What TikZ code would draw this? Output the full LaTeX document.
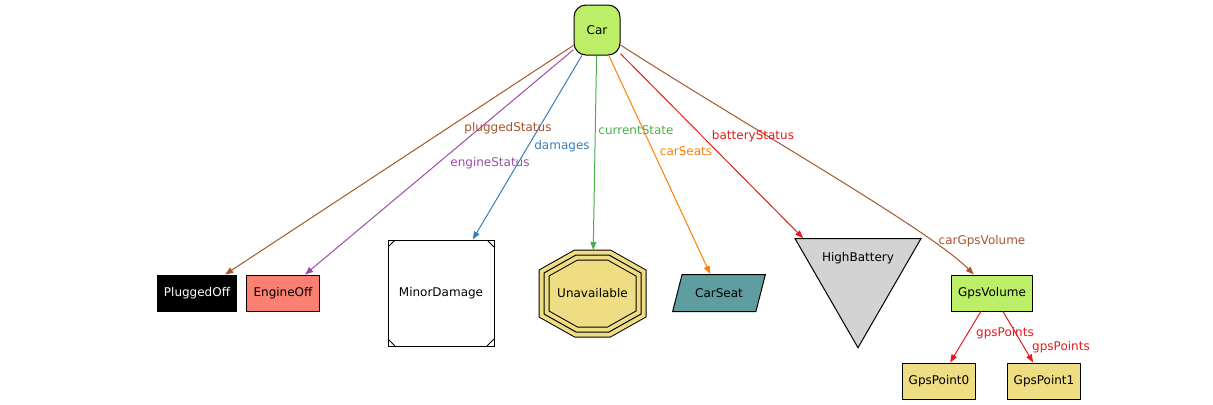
\documentclass[tikz,border=0pt]{standalone}
\usepackage{fontspec}
\setmainfont{DejaVu Sans}
\usepackage{tikz}
\usetikzlibrary{
  positioning,
  calc,
  arrows.meta,
  shapes.geometric
}
\definecolor{olivegreen}{HTML}{BCEE68}
\definecolor{salmonred}{HTML}{FA8072}
\definecolor{goldfill}{HTML}{EEDD82}
\definecolor{cadet}{HTML}{5F9EA0}
\definecolor{greyfill}{HTML}{D3D3D3}
\definecolor{ebrown}{HTML}{A65628}
\definecolor{epurple}{HTML}{984EA3}
\definecolor{eblue}{HTML}{377EB8}
\definecolor{egreen}{HTML}{4DAF4A}
\definecolor{eorange}{HTML}{FF7F00}
\definecolor{ered}{HTML}{E41A1C}

\begin{document}
\begin{tikzpicture}[
      x=0.75pt, y=-0.75pt,
      every node/.style={font=\fontsize{9}{11}\selectfont},
      box/.style={rectangle, draw, line width=0.75pt, minimum height=27pt, inner xsep=5pt},
      rootbox/.style={rectangle, draw, line width=0.75pt, fill=olivegreen, rounded corners=9pt, minimum width=34.5pt, minimum height=37.5pt},
      msquare/.style={rectangle, draw, line width=0.75pt, fill=white, minimum size=79.5pt,
        path picture={
          \foreach \c/\dx/\dy in {north west/1/-1, north east/-1/-1, south west/1/1, south east/-1/1}
            \draw[line width=0.75pt] ([xshift=\dx*5.25pt]path picture bounding box.\c) -- ([yshift=\dy*5.25pt]path picture bounding box.\c);}},
      octo/.style={rectangle, minimum width=72.75pt, minimum height=57.75pt, outer sep=3.75pt},
      tripleline/.style={line width=0.75pt, line join=miter,
        preaction={draw=black, fill=goldfill, line width=8.25pt},
        preaction={draw=goldfill, line width=6.75pt}},
      slanted/.style={trapezium, trapezium left angle=68, trapezium right angle=112, trapezium stretches=true, draw, line width=0.75pt, fill=cadet, minimum width=69.75pt, minimum height=27.75pt},
      invtri/.style={regular polygon, regular polygon sides=3, shape border rotate=180, draw, line width=0.75pt, fill=greyfill, minimum size=109pt, inner sep=0pt},
      arrow/.style={-{Triangle[length=6pt, width=4.5pt]}, line width=0.75pt}
    ]
      \useasboundingbox (0,0) rectangle (1213,404);

      % Root
      \node[rootbox] (car) at (597,30) {Car};

      % Values
      \node[box, fill=black, text=white] (pluggedoff) at (197,293) {PluggedOff};
      \node[box, fill=salmonred] (engineoff) at (283,293) {EngineOff};
      \node[msquare] (minordamage) at (441,293) {MinorDamage};
      % triple octagon, drawn under its text
      \draw[tripleline] (592.5,293.5) ++(-16.5,-38.5) -- ++(33,0) -- ++(32,18) -- ++(0,41) -- ++(-32,18) -- ++(-33,0) -- ++(-32,-18) -- ++(0,-41) -- cycle;
      \node[octo] (unavailable) at (592.5,293.5) {Unavailable};
      \node[slanted] (carseat) at (719,293) {CarSeat};
      \node[invtri, label={[yshift=12.75pt]center:HighBattery}] (highbattery) at (858,275) {};
      \node[box, fill=olivegreen] (gpsvolume) at (992,293) {GpsVolume};
      \node[box, fill=goldfill] (gpspoint0) at (939,381) {GpsPoint0};
      \node[box, fill=goldfill] (gpspoint1) at (1044,381) {GpsPoint1};

      % Arrows
      \draw[arrow, ebrown] (car) -- (pluggedoff);
      \draw[arrow, epurple] (car) -- (engineoff);
      \draw[arrow, eblue] (car) -- (minordamage);
      \draw[arrow, egreen] (car) -- (unavailable);
      \draw[arrow, eorange] (car) -- (carseat);
      \draw[arrow, ered] (car) -- ($(highbattery.corner 3)!0.07!(highbattery.corner 2)$);
      \draw[arrow, ebrown] (car) .. controls (750,128) and (930,230) .. (gpsvolume);
      \draw[arrow, ered] (gpsvolume) -- (gpspoint0);
      \draw[arrow, ered] (gpsvolume) -- (gpspoint1);

      % Labels
      \node[text=ebrown] (lplugged) at (508,128) {pluggedStatus};
      \node[text=epurple] (lengine) at (490,163) {engineStatus};
      \node[text=eblue] (ldamages) at (562,146) {damages};
      \node[text=egreen] (lstate) at (636,130) {currentState};
      \node[text=eorange] (lseats) at (686,151) {carSeats};
      \node[text=ered] (lbattery) at (753,136) {batteryStatus};
      \node[text=ebrown] (lgps) at (982,241) {carGpsVolume};
      \node[text=ered] (lpoints0) at (1005,333) {gpsPoints};
      \node[text=ered] (lpoints1) at (1061,347) {gpsPoints};
    \end{tikzpicture}
\end{document}
